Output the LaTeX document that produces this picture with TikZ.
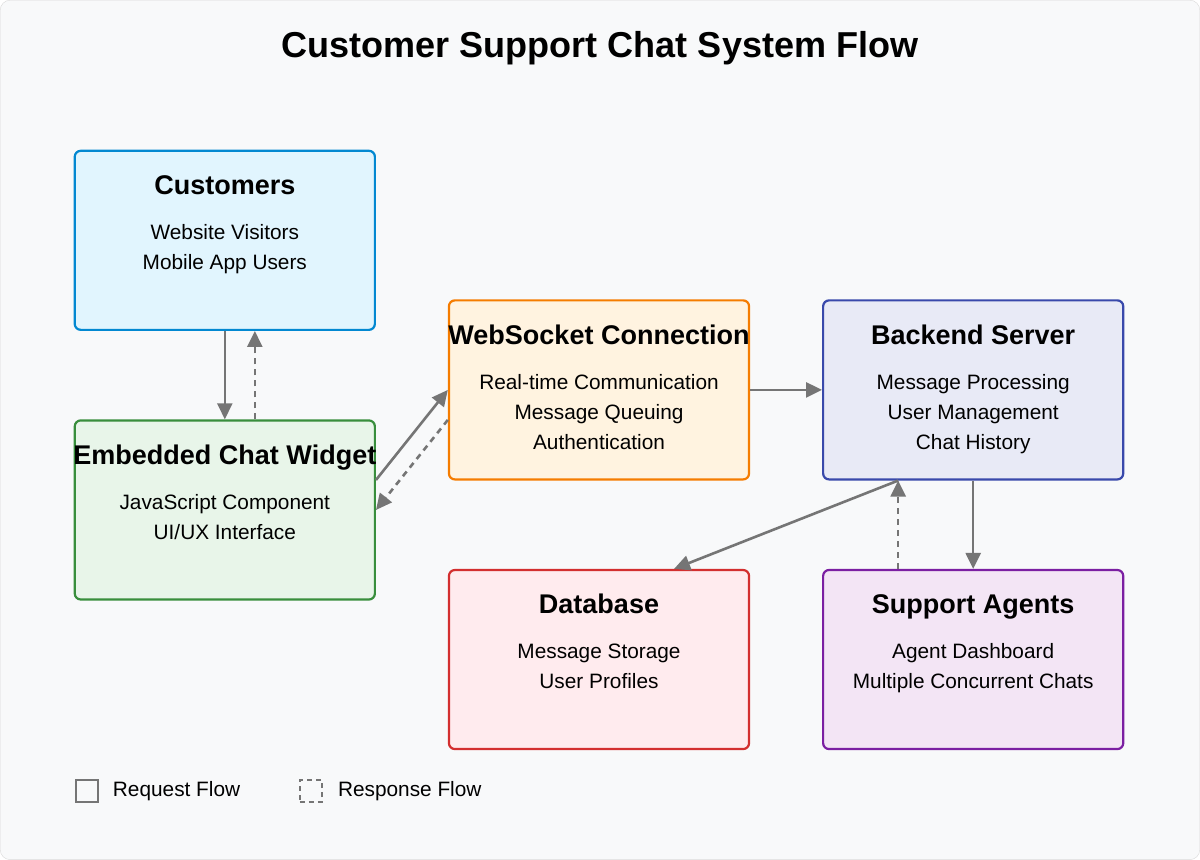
\documentclass[tikz,border=0pt]{standalone}
\usepackage{fontspec}
\setmainfont{Liberation Sans}
\usetikzlibrary{arrows.meta,positioning,calc}
\definecolor{bgc}{HTML}{F8F9FA}
\definecolor{flowc}{HTML}{757575}
\definecolor{custf}{HTML}{E1F5FE}\definecolor{custd}{HTML}{0288D1}
\definecolor{widf}{HTML}{E8F5E9}\definecolor{widd}{HTML}{388E3C}
\definecolor{wsf}{HTML}{FFF3E0}\definecolor{wsd}{HTML}{F57C00}
\definecolor{bef}{HTML}{E8EAF6}\definecolor{bed}{HTML}{3949AB}
\definecolor{dbf}{HTML}{FFEBEE}\definecolor{dbd}{HTML}{D32F2F}
\definecolor{agf}{HTML}{F3E5F5}\definecolor{agd}{HTML}{7B1FA2}
\newcommand{\boxtext}[4]{%
  \node[ttl] (#1-t) at ([yshift=-45]#1.north) {#2};
  \node[txt] (#1-a) at ([yshift=-90]#1.north) {#3};
  \node[txt] (#1-b) at ([yshift=-120]#1.north) {#4};
}
\begin{document}
\begin{tikzpicture}[x=1pt,y=-1pt]
	\tikzstyle{block} = [rectangle, rounded corners=6pt, line width=2.2pt, minimum width=300pt, minimum height=179pt, inner sep=0pt]
	\tikzstyle{ttl} = [font=\bfseries\fontsize{27}{32}\selectfont, inner sep=0pt, anchor=base]
	\tikzstyle{txt} = [font=\fontsize{20.8}{25}\selectfont, inner sep=0pt, anchor=base]
	\tikzstyle{flow} = [draw=flowc, line width=2.6pt, -{Triangle[length=16pt,width=15pt]}]
	\tikzstyle{resp} = [flow, dash pattern=on 6pt off 5pt]
	\path[use as bounding box, fill=bgc, draw=black!15, rounded corners=10pt] (0.5,0.5) rectangle (1199.5,859.5);
	\node[font=\bfseries\fontsize{36}{42}\selectfont] (title) at (600,48) {Customer Support Chat System Flow};
	% boxes
	\node[block, fill=custf, draw=custd] (cust) at (225,240.5) {};
	\node[block, fill=widf, draw=widd] (wid) at (225,510) {};
	\node[block, fill=wsf, draw=wsd] (ws) at (599,390) {};
	\node[block, fill=bef, draw=bed] (be) at (973,390) {};
	\node[block, fill=dbf, draw=dbd] (db) at (599,659.5) {};
	\node[block, fill=agf, draw=agd] (ag) at (973,659.5) {};
	\boxtext{cust}{Customers}{Website Visitors}{Mobile App Users}
	\boxtext{wid}{Embedded Chat Widget}{JavaScript Component}{UI/UX Interface}
	\boxtext{ws}{WebSocket Connection}{Real-time Communication}{Message Queuing}
	\node[txt] (ws-c) at ([yshift=-150]ws.north) {Authentication};
	\boxtext{be}{Backend Server}{Message Processing}{User Management}
	\node[txt] (be-c) at ([yshift=-150]be.north) {Chat History};
	\boxtext{db}{Database}{Message Storage}{User Profiles}
	\boxtext{ag}{Support Agents}{Agent Dashboard}{Multiple Concurrent Chats}
	% flows
	\draw[flow] (cust.south) -- (wid.north);
	\draw[resp] ([xshift=30]wid.north) -- ([xshift=30]cust.south);
	\draw[flow] ([yshift=30]wid.east) -- (ws.west);
	\draw[resp] ([yshift=-30]ws.west) -- (wid.east);
	\draw[flow] (ws.east) -- (be.west);
	\draw[flow] ([xshift=-75]be.south) -- ([xshift=75]db.north);
	\draw[resp] ([xshift=-75]ag.north) -- ([xshift=-75]be.south);
	\draw[flow] (be.south) -- (ag.north);
	% legend
	\node[draw=flowc, line width=2pt, minimum size=22pt, inner sep=0pt] (lreq) at (87,791) {};
	\node[txt, anchor=west] (lreq-t) at (113,791) {Request Flow};
	\node[draw=flowc, line width=2pt, dash pattern=on 5pt off 4pt, minimum size=22pt, inner sep=0pt] (lres) at (311,791) {};
	\node[txt, anchor=west] (lres-t) at (338,791) {Response Flow};
\end{tikzpicture}
\end{document}
